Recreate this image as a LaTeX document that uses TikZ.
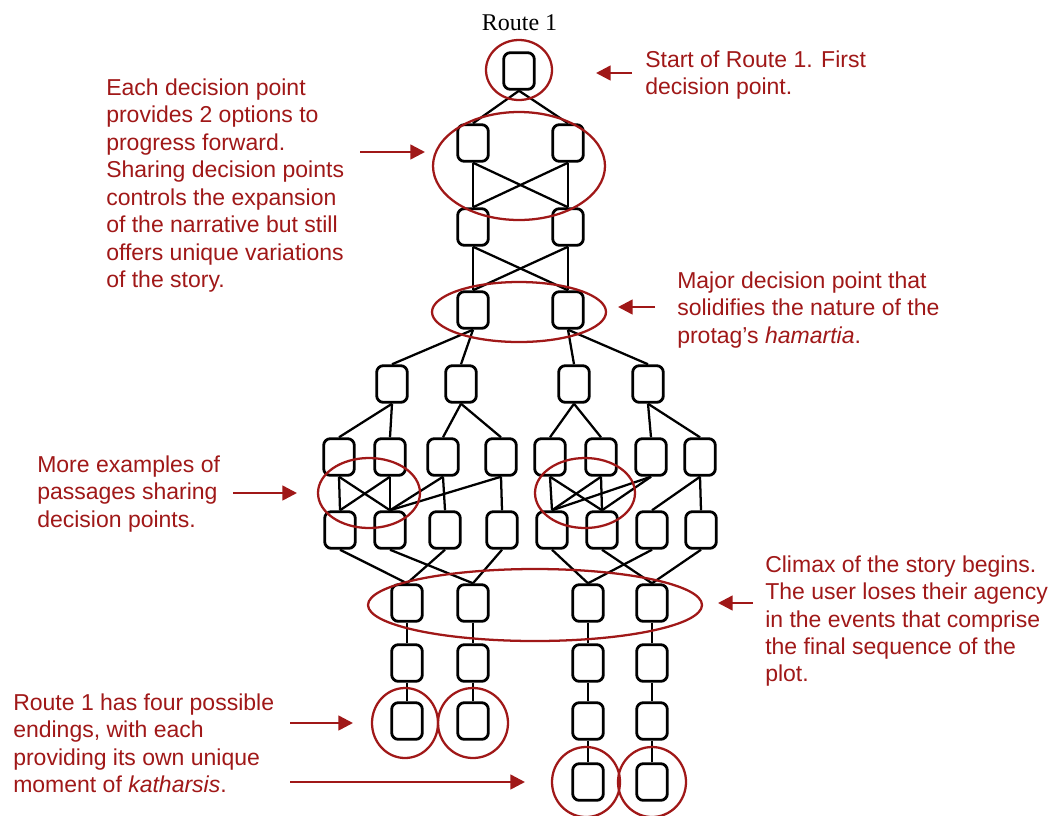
\documentclass[tikz,border=0pt]{standalone}
\usepackage{fontspec}
\setmainfont{Liberation Sans}
\newfontfamily\titlefont{Liberation Serif}
\usetikzlibrary{arrows.meta}
\definecolor{note}{RGB}{160,24,24}
% red outline round a group of passages: centre, x radius, y radius (px)
\newcommand\ringat[3]{\draw[ring] (#1) ellipse [x radius=#2*0.75pt, y radius=#3*0.75pt];}
\begin{document}
\begin{tikzpicture}[x=0.75pt,y=-0.75pt,
  passage/.style={draw, line width=2.1pt, rounded corners=5pt,
    minimum width=23pt, minimum height=27.5pt, inner sep=0pt},
  link/.style={line width=1.7pt},
  ring/.style={draw=note, line width=1.7pt},
  pointer/.style={draw=note, line width=1.9pt,
    -{Triangle[length=11pt,width=11pt,fill=note]}},
  remark/.style={text=note, font=\fontsize{17.25pt}{20.5pt}\selectfont,
    align=left, inner sep=0pt, anchor=north west}]

\fill[white] (0,0) rectangle (1049,815);
\useasboundingbox (0,0) rectangle (1049,815);

% title
\node[anchor=base, inner sep=0pt, font=\titlefont\fontsize{18pt}{20pt}\selectfont] (title) at (519.5,30) {Route 1};

% passages
\node[passage] (a0) at (519,71) {};
\node[passage] (b1) at (473,143) {};
\node[passage] (b2) at (568,143) {};
\node[passage] (c1) at (473,227) {};
\node[passage] (c2) at (568,227) {};
\node[passage] (d1) at (473,310) {};
\node[passage] (d2) at (568,310) {};
\foreach \n/\x in {1/392,2/461,3/574,4/648}
  \node[passage] (e\n) at (\x,384) {};
\foreach \n/\x in {1/339,2/390,3/443,4/501,5/550,6/601,7/651,8/700}
  \node[passage] (f\n) at (\x,457) {};
\foreach \n/\x in {1/340,2/390,3/445,4/502,5/552,6/602,7/652,8/701}
  \node[passage] (g\n) at (\x,530) {};
\foreach \n/\x in {1/407,2/473,3/588,4/652}{
  \node[passage] (h\n) at (\x,603) {};
  \node[passage] (i\n) at (\x,663) {};
  \node[passage] (j\n) at (\x,721) {};
}
\node[passage] (k1) at (588,782) {};
\node[passage] (k2) at (652,782) {};

% links between passages
\foreach \s/\t in {a0/b1,a0/b2,
  b1/c1,b1/c2,b2/c1,b2/c2,
  c1/d1,c1/d2,c2/d1,c2/d2,
  d1/e1,d1/e2,d2/e3,d2/e4,
  e1/f1,e1/f2,e2/f3,e2/f4,e3/f5,e3/f6,e4/f7,e4/f8,
  f1/g1,f1/g2,f2/g1,f2/g2,f3/g2,f3/g3,f4/g2,f4/g4,
  f5/g5,f5/g6,f6/g5,f6/g6,f7/g5,f7/g6,f8/g7,f8/g8,
  g1/h1,g2/h2,g3/h1,g4/h2,g5/h3,g6/h4,g7/h3,g8/h4,
  h1/i1,h2/i2,h3/i3,h4/i4,
  i1/j1,i2/j2,i3/j3,i4/j4,
  j3/k1,j4/k2}
  \draw[link] (\s.south) -- (\t.north);

% outlines of highlighted groups
\ringat{519,70}{33}{30}
\ringat{519,166}{86}{54}
\ringat{519,312}{87}{30}
\ringat{369,493}{51}{35}
\ringat{585,493}{50}{35}
\ringat{535,605}{167}{36}
\ringat{405,723}{33}{35}
\ringat{473,723}{35}{35}
\ringat{586,782}{34}{35}
\ringat{652,782}{34}{35}

% remarks
\node[remark] (n1) at (645,50.4) {Start of Route 1. First\\decision point.};
\node[remark, font=\fontsize{17.25pt}{20.6pt}\selectfont] (n2) at (106,78.4) {Each decision point\\provides 2 options to\\progress forward.\\Sharing decision points\\controls the expansion\\of the narrative but still\\offers unique variations\\of the story.};
\node[remark] (n3) at (677,271.4) {Major decision point that\\solidifies the nature of the\\protag's \textit{hamartia}.};
\node[remark] (n4) at (37,455.4) {More examples of\\passages sharing\\decision points.};
\node[remark] (n5) at (13,693.4) {Route 1 has four possible\\endings, with each\\providing its own unique\\moment of \textit{katharsis}.};
\node[remark] (n6) at (765,555.4) {Climax of the story begins.\\The user loses their agency\\in the events that comprise\\the final sequence of the\\plot.};

% pointers from remarks
\coordinate (p1s) at (632,73);  \coordinate (p1t) at (596,73);
\coordinate (p2s) at (360,152); \coordinate (p2t) at (425,152);
\coordinate (p3s) at (655,307); \coordinate (p3t) at (618,307);
\coordinate (p4s) at (233,493); \coordinate (p4t) at (297,493);
\coordinate (p5s) at (290,723); \coordinate (p5t) at (353,723);
\coordinate (p6s) at (290,782); \coordinate (p6t) at (525,782);
\coordinate (p7s) at (753,603); \coordinate (p7t) at (718,603);
\foreach \k in {1,...,7}
  \draw[pointer] (p\k s) -- (p\k t);

\end{tikzpicture}
\end{document}
